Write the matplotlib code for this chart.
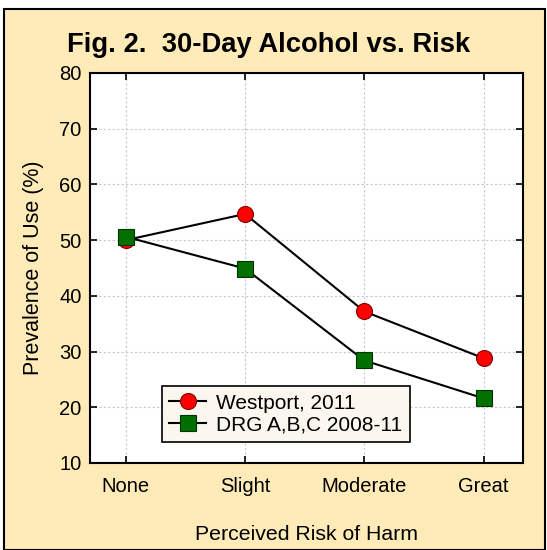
import matplotlib
matplotlib.use("Agg")
import matplotlib.pyplot as plt
from matplotlib.patches import Rectangle

categories = ["None", "Slight", "Moderate", "Great"]
westport = [50.0, 54.7, 37.2, 28.8]
drg = [50.6, 44.9, 28.4, 21.6]
series_labels = ["Westport, 2011", "DRG A,B,C 2008-11"]
yticks = [10, 20, 30, 40, 50, 60, 70, 80]

plt.rcParams['font.family'] = ['Liberation Sans', 'DejaVu Sans']

W, H = 547, 550
fig = plt.figure(figsize=(W / 100, H / 100), dpi=100)
fig.patch.set_facecolor('white')
bg = Rectangle((4 / W, 0), 541 / W, 1 - 9 / H, transform=fig.transFigure,
               facecolor='#FFEBB8', edgecolor='black', linewidth=1.5, zorder=-10)
fig.patches.append(bg)

ax = fig.add_axes([90 / W, 1 - 463 / H, (523 - 90) / W, (463 - 73) / H])
ax.set_facecolor('white')
x = list(range(len(categories)))
ax.plot(x, westport, color='black', lw=1.5, marker='o', ms=11.5,
        mfc='#FF0000', mec='#800000', mew=0.8, label=series_labels[0], zorder=3)
ax.plot(x, drg, color='black', lw=1.5, marker='s', ms=11,
        mfc='#007000', mec='#003300', mew=0.8, label=series_labels[1], zorder=3)

ax.set_xlim(-0.3, 3.33)
ax.set_ylim(10, 80)
ax.set_xticks(x)
ax.set_xticklabels(categories)
ax.set_yticks(yticks)
ax.grid(True, color='#C8C8C8', linestyle=(0, (2, 2)), linewidth=0.8)
ax.tick_params(direction='in', length=5, width=1.2, top=True, right=True,
               labelsize=14.5, pad=6, color='black')
ax.tick_params(axis='x', pad=10)
for s in ax.spines.values():
    s.set_linewidth(1.5)

ax.set_xlabel('Perceived Risk of Harm', fontsize=15.3, labelpad=21)
ax.set_ylabel('Prevalence of Use (%)', fontsize=15.5, labelpad=11)
fig.text(269 / W, 1 - 45 / H, 'Fig. 2.  30-Day Alcohol vs. Risk',
         ha='center', va='center', fontsize=19.7, fontweight='bold')

leg = ax.legend(loc='lower left', bbox_to_anchor=((162 - 90) / (523 - 90), (463 - 442) / (463 - 73)),
                fontsize=15, frameon=True, fancybox=False, edgecolor='black',
                facecolor='#FBF7EE', framealpha=1, borderpad=0.35, handlelength=1.75,
                labelspacing=0.15, handletextpad=0.5, borderaxespad=0)
leg.get_frame().set_linewidth(1.2)

fig.savefig('out.png', dpi=100)
